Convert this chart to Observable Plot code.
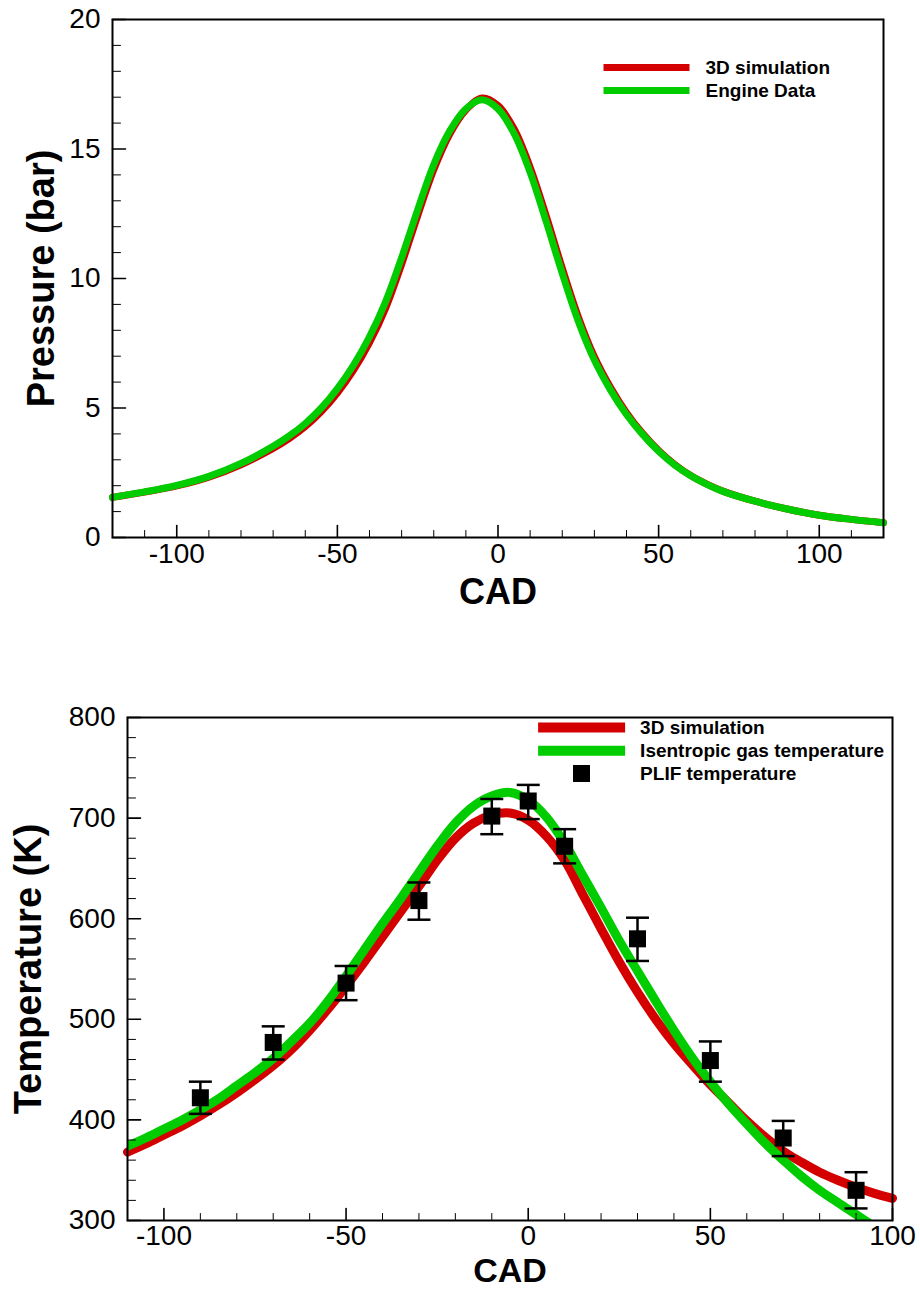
<!DOCTYPE html>
<html><head><meta charset="utf-8">
<script src="https://cdn.jsdelivr.net/npm/d3@7"></script>
<script src="https://cdn.jsdelivr.net/npm/@observablehq/plot@0.6"></script>
<style>
html,body{margin:0;padding:0;background:#fff;}
#wrap{position:relative;width:920px;height:1289px;overflow:hidden;}
#chartTop{position:absolute;left:0;top:0;}
#chartBot{position:absolute;left:0;top:640px;}
svg{overflow:visible;}
</style></head><body><div id="wrap"><div id="chartTop"></div><div id="chartBot"></div></div>
<script>
const FONT = '"Liberation Sans", Arial, Helvetica, sans-serif';
const RED = "#d40000", GREEN = "#00cc00";

// ---------- Pressure chart data ----------
const pCad = [-120,-110,-100,-90,-80,-70,-65,-60,-55,-50,-45,-40,-35,-30,-25,-20,-15,-10,-5,0,5,10,15,20,25,30,35,40,45,50,55,60,65,70,80,90,100,110,120];
const pSim = [1.55,1.75,1.99,2.33,2.81,3.44,3.82,4.28,4.86,5.58,6.45,7.52,8.85,10.55,12.42,14.2,15.58,16.5,16.97,16.68,15.78,14.3,12.42,10.4,8.52,6.98,5.8,4.82,4.02,3.36,2.82,2.39,2.06,1.79,1.4,1.1,0.86,0.7,0.57];
const pEngine = [1.55,1.76,2.01,2.36,2.86,3.52,3.92,4.40,5.0,5.75,6.65,7.75,9.1,10.8,12.65,14.4,15.7,16.55,16.9,16.55,15.6,14.1,12.2,10.2,8.35,6.85,5.7,4.75,3.98,3.33,2.8,2.38,2.05,1.78,1.4,1.1,0.86,0.7,0.57];
const pXMajor = [-100,-50,0,50,100];
const pXMinor = [-120,-110,-90,-80,-70,-60,-40,-30,-20,-10,10,20,30,40,60,70,80,90,110,120];
const pYMajor = [0,5,10,15,20];
const pYMinor = [1,2,3,4,6,7,8,9,11,12,13,14,16,17,18,19];
const pLegend = ["3D simulation","Engine Data"];

// ---------- Temperature chart data ----------
const tCadSim = [-110,-105,-100,-95,-90,-85,-80,-75,-70,-65,-60,-55,-50,-45,-40,-35,-30,-25,-20,-15,-10,-5,0,5,10,15,20,25,30,35,40,45,50,55,60,65,70,75,80,85,90,95,100];
const tSim = [368,376,385,394,404,415,427,440,454,470,489,510,533,557,582,607,632,658,680,695,703,705,698,682,658,624,590,557,527,500,476,455,435,417,399,383,369,358,348,340,333,327,322];
const tCadIsen = [-110,-105,-100,-95,-90,-85,-80,-75,-70,-65,-60,-55,-50,-45,-40,-35,-30,-25,-20,-15,-10,-5,0,5,10,15,20,25,30,35,40,45,50,55,60,65,70,75,80,85,90,95];
const tIsen = [374,382,391,400,410,421,434,447,461,478,496,518,543,569,595,620,646,672,695,712,722,725.5,718,701,675,643,611,578,548,518,489,462,438,416,396,377,360,344,330,318,306,294];
const plifCad = [-90,-70,-50,-30,-10,0,10,30,50,70,90];
const plifT  = [422,477,536,618,702,717,672,580,459,382,330];
const plifLo = [406,460,519,599,684,699,655,558,438,364,312];
const plifHi = [438,493,553,636,719,733,689,601,478,399,348];
const tXMajor = [-100,-50,0,50,100];
const tXMinor = [-110,-90,-80,-70,-60,-40,-30,-20,-10,10,20,30,40,60,70,80,90];
const tYMajor = [300,400,500,600,700,800];
const tYMinor = [320,340,360,380,420,440,460,480,520,540,560,580,620,640,660,680,720,740,760,780];
const tLegend = ["3D simulation","Isentropic gas temperature","PLIF temperature"];

const pressure = pCad.map((c,i)=>({cad:c, sim:pSim[i], eng:pEngine[i]}));
const tsim = tCadSim.map((c,i)=>({cad:c, t:tSim[i]}));
const tisen = tCadIsen.map((c,i)=>({cad:c, t:tIsen[i]}));
const plif = plifCad.map((c,i)=>({cad:c, t:plifT[i], lo:plifLo[i], hi:plifHi[i]}));

const line = {draw(ctx, l){ ctx.moveTo(0,0); ctx.lineTo(0,-l); }};
const fmt = d => String(d);

function ticksX(major, minor){
  return [
    Plot.vector(major, {x: d=>d, frameAnchor:"bottom", length:12, rotate:0, anchor:"start", shape:line, stroke:"black", strokeWidth:1.6}),
    Plot.vector(minor, {x: d=>d, frameAnchor:"bottom", length:7, rotate:0, anchor:"start", shape:line, stroke:"black", strokeWidth:1})
  ];
}
function ticksY(major, minor){
  return [
    Plot.vector(major, {y: d=>d, frameAnchor:"left", length:13, rotate:90, anchor:"start", shape:line, stroke:"black", strokeWidth:1.6}),
    Plot.vector(minor, {y: d=>d, frameAnchor:"left", length:8, rotate:90, anchor:"start", shape:line, stroke:"black", strokeWidth:1})
  ];
}
function legendText(label, dx, dy){
  return Plot.text([label], {text: d=>d, frameAnchor:"top-left", dx, dy, textAnchor:"start", lineAnchor:"middle", fontSize: 19, fontWeight:"bold"});
}
function legendLine(label, dx, dy, len, color, w){
  return Plot.vector([label], {frameAnchor:"top-left", dx, dy, length: len, rotate: 90, anchor:"start", shape: line, stroke: color, strokeWidth: w, strokeLinecap:"butt"});
}

// ---------- Top chart ----------
const chartTop = Plot.plot({
  width: 920, height: 640,
  marginLeft: 112, marginRight: 37, marginTop: 19, marginBottom: 103,
  style: {fontFamily: FONT, background: "white", color: "black"},
  x: {domain: [-120, 120]},
  y: {domain: [0, 20]},
  marks: [
    Plot.line(pressure, {x:"cad", y:"sim", stroke: RED, strokeWidth: 7, curve:"catmull-rom"}),
    Plot.line(pressure, {x:"cad", y:"eng", stroke: GREEN, strokeWidth: 7, curve:"catmull-rom"}),
    Plot.frame({stroke:"black", strokeWidth: 2}),
    ...ticksX(pXMajor, pXMinor),
    ...ticksY(pYMajor, pYMinor),
    Plot.axisX({ticks: pXMajor, tickSize: 0, tickPadding: 6, tickFormat: fmt, fontSize: 28, label: null}),
    Plot.axisY({ticks: pYMajor, tickSize: 0, tickPadding: 12, tickFormat: fmt, fontSize: 28, label: null}),
    Plot.text(["CAD"], {text: d=>d, frameAnchor:"bottom", dy: 40.5, lineAnchor:"top", fontSize: 36, fontWeight:"bold"}),
    Plot.text(["Pressure (bar)"], {text: d=>d, frameAnchor:"left", dx: -71, rotate: -90, lineAnchor:"middle", textAnchor:"middle", fontSize: 38, fontWeight:"bold"}),
    legendLine(pLegend[0], 491, 48, 86, RED, 7),
    legendLine(pLegend[1], 491, 71, 86, GREEN, 7),
    legendText(pLegend[0], 593, 48),
    legendText(pLegend[1], 593, 71)
  ]
});
document.getElementById("chartTop").appendChild(chartTop);

// ---------- Bottom chart ----------
const chartBot = Plot.plot({
  width: 920, height: 649,
  marginLeft: 127, marginRight: 28, marginTop: 77, marginBottom: 69,
  style: {fontFamily: FONT, background: "white", color: "black"},
  x: {domain: [-110, 100]},
  y: {domain: [300, 800]},
  marks: [
    Plot.line(tsim, {x:"cad", y:"t", stroke: RED, strokeWidth: 9, curve:"catmull-rom"}),
    Plot.line(tisen, {x:"cad", y:"t", stroke: GREEN, strokeWidth: 9, curve:"catmull-rom", clip: true}),
    Plot.ruleX(plif, {x:"cad", y1:"lo", y2:"hi", stroke:"black", strokeWidth: 2.5}),
    Plot.vector(plif, {x:"cad", y:"lo", length: 23, rotate: 90, anchor:"middle", shape: line, stroke:"black", strokeWidth: 2.5, strokeLinecap:"butt"}),
    Plot.vector(plif, {x:"cad", y:"hi", length: 23, rotate: 90, anchor:"middle", shape: line, stroke:"black", strokeWidth: 2.5, strokeLinecap:"butt"}),
    Plot.dot(plif, {x:"cad", y:"t", symbol:"square", r: 9.6, fill:"black"}),
    Plot.frame({stroke:"black", strokeWidth: 2}),
    ...ticksX(tXMajor, tXMinor),
    ...ticksY(tYMajor, tYMinor),
    Plot.axisX({ticks: tXMajor, tickSize: 0, tickPadding: 5, tickFormat: fmt, fontSize: 28, label: null}),
    Plot.axisY({ticks: tYMajor, tickSize: 0, tickPadding: 12, tickFormat: fmt, fontSize: 28, label: null}),
    Plot.text(["CAD"], {text: d=>d, frameAnchor:"bottom", dy: 37.6, lineAnchor:"top", fontSize: 34, fontWeight:"bold"}),
    Plot.text(["Temperature (K)"], {text: d=>d, frameAnchor:"left", dx: -99, rotate: -90, lineAnchor:"middle", textAnchor:"middle", fontSize: 38, fontWeight:"bold"}),
    legendLine(tLegend[0], 410.6, 10, 87, RED, 10),
    legendLine(tLegend[1], 410.6, 33.3, 87, GREEN, 10),
    Plot.dot([tLegend[2]], {frameAnchor:"top-left", dx: 454, dy: 56, symbol:"square", r: 9.6, fill:"black"}),
    legendText(tLegend[0], 512.6, 10),
    legendText(tLegend[1], 512.6, 33.3),
    legendText(tLegend[2], 512.6, 56)
  ]
});
document.getElementById("chartBot").appendChild(chartBot);
</script></body></html>
